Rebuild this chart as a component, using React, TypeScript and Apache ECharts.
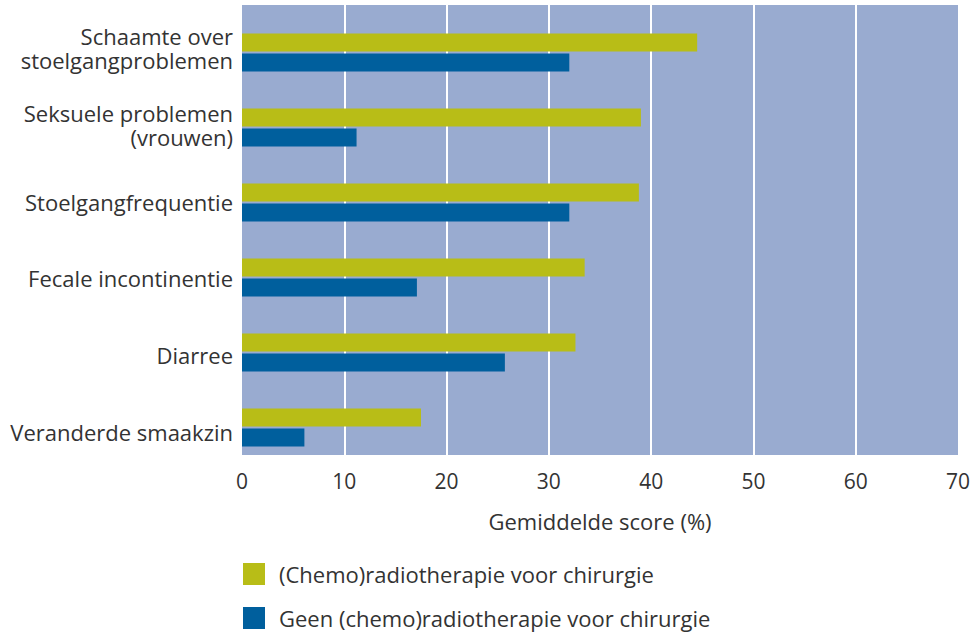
import React, { useEffect, useRef } from "react";
import * as echarts from "echarts";

const categories = [
  "Schaamte over\nstoelgangproblemen",
  "Seksuele problemen\n(vrouwen)",
  "Stoelgangfrequentie",
  "Fecale incontinentie",
  "Diarree",
  "Veranderde smaakzin",
];
const seriesNames = [
  "(Chemo)radiotherapie voor chirurgie",
  "Geen (chemo)radiotherapie voor chirurgie",
];
const chemoValues = [44.5, 39.0, 38.8, 33.5, 32.6, 17.5];
const geenValues = [32.0, 11.2, 32.0, 17.1, 25.7, 6.1];
const spacerValues = [0, 0, 0, 0, 0, 0];
const xTicks = { min: 0, max: 70, interval: 10 };

const FONT = "'Open Sans', sans-serif";
const TEXT = "#333333";

export default function App() {
  const ref = useRef<HTMLDivElement>(null);
  useEffect(() => {
    if (!ref.current) return;
    const chart = echarts.init(ref.current, null, { renderer: "svg" });
    chart.setOption({
      animation: false,
      grid: [
        {
          left: 242,
          right: 17,
          top: 5,
          bottom: 178,
          show: true,
          backgroundColor: "#99abd0",
          borderWidth: 0,
        },
        {
          left: 242,
          right: 17,
          top: 9.6,
          bottom: 162.6,
          show: false,
        },
      ],
      legend: {
        orient: "vertical",
        left: 243,
        top: 563,
        padding: 0,
        itemWidth: 22,
        itemHeight: 22,
        itemGap: 22,
        icon: "rect",
        data: seriesNames,
        textStyle: { fontFamily: FONT, fontSize: 22, color: TEXT, padding: [0, 0, 0, 9] },
      },
      xAxis: [
        {
          type: "value",
          gridIndex: 0,
          min: xTicks.min,
          max: xTicks.max,
          interval: xTicks.interval,
          axisLine: { show: false },
          axisTick: { show: false },
          axisLabel: { fontFamily: FONT, fontSize: 21, color: TEXT, margin: 15 },
          splitLine: {
            show: true,
            showMinLine: false,
            showMaxLine: false,
            lineStyle: { color: "#ffffff", width: 2 },
          },
          name: "Gemiddelde score (%)",
          nameLocation: "middle",
          nameGap: 55,
          nameTextStyle: { fontFamily: FONT, fontSize: 22, color: TEXT },
        },
        {
          type: "value",
          gridIndex: 1,
          show: false,
          min: 0,
          max: 1,
        },
      ],
      yAxis: [
        {
          type: "category",
          gridIndex: 0,
          data: categories,
          inverse: true,
          axisLine: { show: false },
          axisTick: { show: false },
          splitLine: { show: false },
          axisLabel: { show: false },
        },
        {
          type: "category",
          gridIndex: 1,
          data: categories,
          inverse: true,
          axisLine: { show: false },
          axisTick: { show: false },
          splitLine: { show: false },
          axisLabel: {
            fontFamily: FONT,
            fontSize: 22,
            color: TEXT,
            lineHeight: 24,
            margin: 9,
            align: "right",
          },
        },
      ],
      series: [
        {
          name: "spacer",
          type: "bar",
          data: spacerValues,
          barWidth: 18,
          barGap: "11%",
          itemStyle: { color: "transparent" },
          silent: true,
        },
        {
          name: seriesNames[0],
          type: "bar",
          data: chemoValues,
          barWidth: 18,
          barGap: "11%",
          itemStyle: { color: "#b8bd17" },
        },
        {
          name: seriesNames[1],
          type: "bar",
          data: geenValues,
          barWidth: 18,
          barGap: "11%",
          itemStyle: { color: "#005f9d" },
        },
      ],
    });
    return () => chart.dispose();
  }, []);
  return <div ref={ref} style={{ width: 975, height: 633, position: "absolute", left: 0, top: 0 }} />;
}
